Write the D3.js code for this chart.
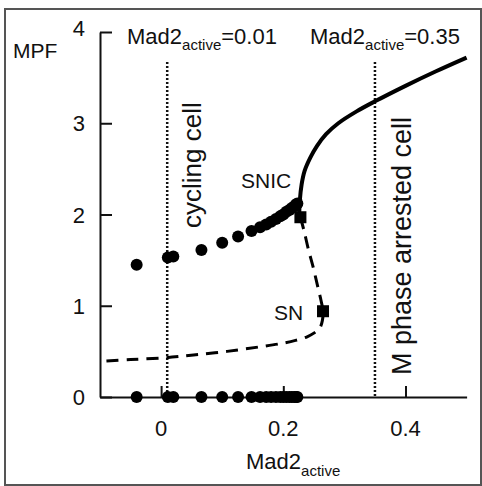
<!DOCTYPE html>
<html>
<head>
<meta charset="utf-8">
<script src="https://cdn.jsdelivr.net/npm/d3@7"></script>
<style>
  body { margin: 0; background: #fff; }
  svg { display: block; }
  text { font-family: Arial, "Liberation Sans", Helvetica, sans-serif; fill: #111; }
</style>
</head>
<body>
<div id="chart"></div>
<script>
// values
var xTicks = [0, 0.2, 0.4]
var yTicks = [0, 1, 2, 3, 4]

// limit cycle amplitude (max and min of MPF) for each simulated Mad2 level
var cycleX = [-0.04, 0.011, 0.02, 0.066, 0.1, 0.126, 0.148, 0.162, 0.172, 0.18, 0.188,
  0.195, 0.2, 0.205, 0.21, 0.214, 0.218, 0.221, 0.223]
var cycleMax = [1.45, 1.53, 1.54, 1.61, 1.69, 1.76, 1.82, 1.86, 1.89, 1.92, 1.95,
  1.98, 2.0, 2.03, 2.05, 2.07, 2.09, 2.11, 2.12]
var cycleMin = [0, 0, 0, 0, 0, 0, 0, 0, 0, 0, 0, 0, 0, 0, 0, 0, 0, 0, 0]

// stable steady state (M phase)
var stableX = [0.226, 0.227, 0.23, 0.235, 0.244, 0.255, 0.27, 0.29, 0.32, 0.35, 0.4, 0.45, 0.5]
var stableY = [1.98, 2.15, 2.33, 2.48, 2.62, 2.75, 2.88, 3.0, 3.13, 3.24, 3.41, 3.57, 3.72]

// unstable steady states
var unstableX = [0.228, 0.234, 0.241, 0.249, 0.256, 0.262, 0.265, 0.264, 0.26, 0.25, 0.239,
  0.22, 0.2, 0.162, 0.108, 0.053, 0.007, -0.05, -0.1]
var unstableY = [1.97, 1.82, 1.62, 1.42, 1.22, 1.05, 0.94, 0.84, 0.76, 0.7, 0.66,
  0.62, 0.59, 0.55, 0.5, 0.46, 0.43, 0.41, 0.39]

var bifNames = ['SNIC', 'SN']
var bifX = [0.228, 0.265]
var bifY = [1.97, 0.94]

var markerX = [0.01, 0.35]
var markerText = ['=0.01', '=0.35']

var width = 482
var height = 486

var svg = d3.select('#chart').append('svg')
  .attr('width', width)
  .attr('height', height)

// frame
svg.append('rect')
  .attr('x', 5).attr('y', 9)
  .attr('width', 476).attr('height', 476)
  .attr('fill', 'none')
  .attr('stroke', '#555')
  .attr('stroke-width', 2)

var x = d3.scaleLinear().domain([-0.1, 0.5]).range([100, 466.6])
var y = d3.scaleLinear().domain([0, 4]).range([397, 32])

// axes
svg.append('g')
  .attr('transform', 'translate(0,' + y(0) + ')')
  .call(d3.axisTop(x).tickValues(xTicks).tickSize(11).tickSizeOuter(0).tickFormat(''))
svg.append('g')
  .attr('transform', 'translate(' + x(-0.1) + ',0)')
  .call(d3.axisRight(y).tickValues(yTicks).tickSize(12).tickSizeOuter(0).tickFormat(''))

svg.selectAll('.domain, .tick line')
  .attr('stroke', '#111')
  .attr('stroke-width', 2)

svg.selectAll('.xlab')
    .data(xTicks)
  .enter().append('text')
    .attr('class', 'xlab')
    .attr('x', function (d) { return x(d) })
    .attr('y', 436)
    .attr('text-anchor', 'middle')
    .style('font-size', '22px')
    .text(function (d) { return d === 0 ? '0' : d3.format('.1f')(d) })

svg.selectAll('.ylab')
    .data(yTicks)
  .enter().append('text')
    .attr('class', 'ylab')
    .attr('x', 85)
    .attr('y', function (d) { return y(d) + 8 - (d === 4 ? 4 : 0) })
    .attr('text-anchor', 'end')
    .style('font-size', '22px')
    .text(function (d) { return d })

svg.append('text')
  .attr('x', 13).attr('y', 58)
  .style('font-size', '21px')
  .text('MPF')

var xl = svg.append('text')
  .attr('x', 246).attr('y', 469)
  .style('font-size', '22px')
xl.append('tspan').text('Mad2')
xl.append('tspan').attr('dy', 7).style('font-size', '15px').text('active')

// dotted marker lines
svg.selectAll('.marker')
    .data(markerX)
  .enter().append('line')
    .attr('class', 'marker')
    .attr('x1', function (d) { return x(d) })
    .attr('x2', function (d) { return x(d) })
    .attr('y1', 62)
    .attr('y2', y(0))
    .attr('stroke', '#111')
    .attr('stroke-width', 2.5)
    .attr('stroke-dasharray', '2,2')

markerX.forEach(function (m, i) {
  var t = svg.append('text')
    .attr('x', i === 0 ? 127 : 310)
    .attr('y', 44)
    .style('font-size', '22px')
  t.append('tspan').text('Mad2')
  t.append('tspan').attr('dy', 6).style('font-size', '15px').text('active')
  t.append('tspan').attr('dy', -6).text(markerText[i])
})

// rotated annotations
svg.append('text')
  .attr('transform', 'translate(201,228) rotate(-90)')
  .style('font-size', '26px')
  .text('cycling cell')
svg.append('text')
  .attr('transform', 'translate(411,375) rotate(-90)')
  .style('font-size', '27px')
  .text('M phase arrested cell')

// unstable branch
var line = d3.line()
  .x(function (d) { return x(d[0]) })
  .y(function (d) { return y(d[1]) })
  .curve(d3.curveCatmullRom.alpha(0.5))

svg.append('path')
  .datum(d3.zip(unstableX, unstableY))
  .attr('d', line)
  .attr('fill', 'none')
  .attr('stroke', '#000')
  .attr('stroke-width', 3)
  .attr('stroke-dasharray', '12,8')

svg.append('path')
  .datum(d3.zip(stableX, stableY))
  .attr('d', line)
  .attr('fill', 'none')
  .attr('stroke', '#000')
  .attr('stroke-width', 4)

// limit cycle max / min
var dots = d3.zip(cycleX, cycleMax).concat(d3.zip(cycleX, cycleMin))
svg.selectAll('.dot')
    .data(dots)
  .enter().append('circle')
    .attr('class', 'dot')
    .attr('cx', function (d) { return x(d[0]) })
    .attr('cy', function (d) { return y(d[1]) })
    .attr('r', 6)
    .attr('fill', '#000')

// bifurcation points
svg.selectAll('.bif')
    .data(bifX)
  .enter().append('rect')
    .attr('class', 'bif')
    .attr('x', function (d) { return x(d) - 6 })
    .attr('y', function (d, i) { return y(bifY[i]) - 6 })
    .attr('width', 12)
    .attr('height', 12)
    .attr('fill', '#000')

svg.append('text').attr('x', 241).attr('y', 188).style('font-size', '21px').text(bifNames[0])
svg.append('text').attr('x', 274).attr('y', 320).style('font-size', '21px').text(bifNames[1])
</script>
</body>
</html>
